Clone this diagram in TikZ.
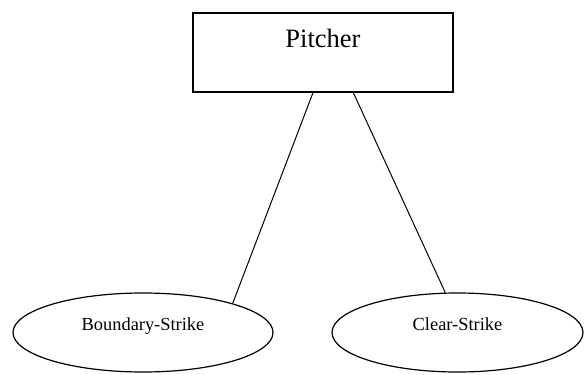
\documentclass[tikz,border=0pt]{standalone}
\usepackage{fontspec}
\setmainfont{Liberation Serif}
\usepackage{tikz}
\usetikzlibrary{positioning,shapes.geometric}

\begin{document}
\begin{tikzpicture}[x=1pt,y=-1pt,
    box/.style={draw,rectangle,line width=1.6pt,minimum width=260pt,minimum height=79pt,
      text height=18pt,text depth=29pt,font=\fontsize{26.5}{30}\selectfont},
    oval/.style={draw,ellipse,line width=1.2pt,minimum height=79pt,inner sep=0pt,
      text height=13pt,text depth=18pt,font=\fontsize{18.4}{22}\selectfont}]
    \useasboundingbox (0,0) rectangle (584,375);
    \node[box] (pitcher) at (323,52.5) {Pitcher};
    \node[oval,minimum width=260pt] (boundary) at (143,332.5) {Boundary-Strike};
    \node[oval,minimum width=251pt] (clear) at (457.5,332.5) {Clear-Strike};
    \draw[line width=1pt] (pitcher.-104) -- (boundary.18);
    \draw[line width=1pt] (pitcher.-53.5) -- (clear.107);
  \end{tikzpicture}
\end{document}
